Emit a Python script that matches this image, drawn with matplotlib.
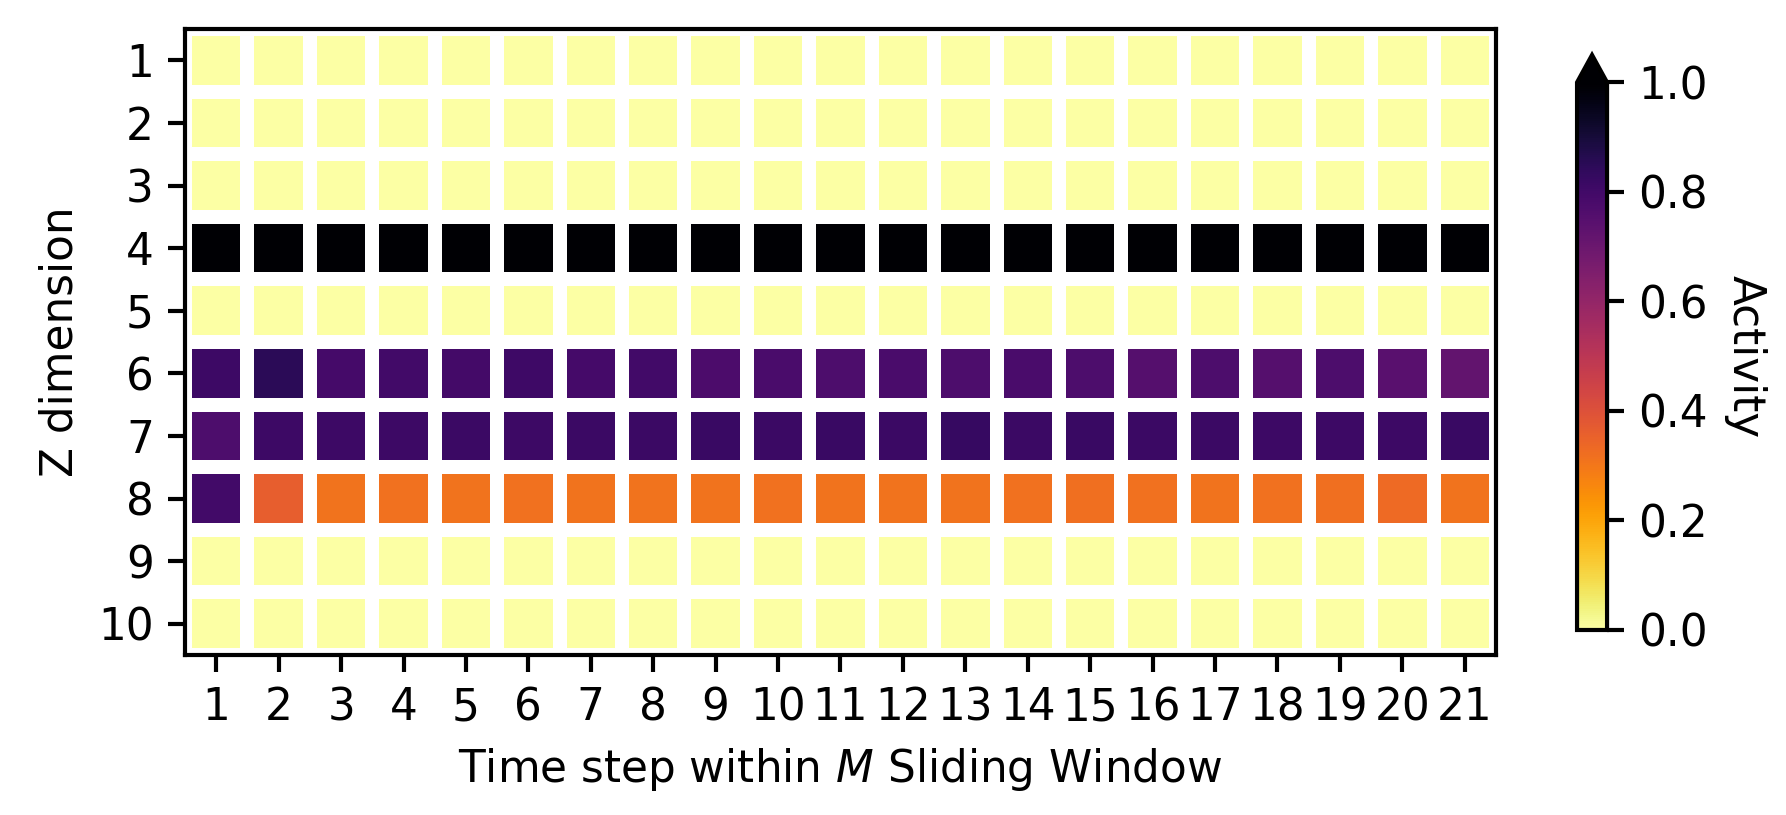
import numpy as np
import matplotlib
matplotlib.use("Agg")
import matplotlib.pyplot as plt

# activity per Z dimension (rows) over the 21 time steps (columns)
time_steps = list(range(1, 22))
z_dims = list(range(1, 11))

row_quiet = [0.0] * 21
row_4 = [1.0] * 21
row_6 = [0.81, 0.85, 0.79, 0.80, 0.795, 0.805, 0.79, 0.80, 0.775, 0.78, 0.77,
         0.78, 0.77, 0.78, 0.77, 0.75, 0.77, 0.75, 0.77, 0.745, 0.72]
row_7 = [0.77, 0.81, 0.81, 0.81, 0.815, 0.81, 0.815, 0.815, 0.82, 0.815, 0.82,
         0.815, 0.825, 0.815, 0.82, 0.815, 0.815, 0.81, 0.81, 0.81, 0.82]
row_8 = [0.80, 0.36, 0.31, 0.315, 0.31, 0.315, 0.31, 0.31, 0.31, 0.315, 0.31,
         0.31, 0.31, 0.315, 0.32, 0.315, 0.31, 0.315, 0.32, 0.33, 0.31]

activity = np.array([row_quiet, row_quiet, row_quiet, row_4, row_quiet,
                     row_6, row_7, row_8, row_quiet, row_quiet])

plt.rcParams["font.family"] = "DejaVu Sans"
plt.rcParams["font.size"] = 10.5

fig = plt.figure(figsize=(1786 / 300, 815 / 300), dpi=300)
ax = fig.add_axes([0.1036, 0.1963, 0.734, 0.768])
cax = fig.add_axes([0.883, 0.227, 0.0168, 0.7055])

mesh = ax.pcolormesh(activity, cmap="inferno_r", vmin=0.0, vmax=1.0,
                     edgecolors="white", linewidth=3.3)
ax.set_xlim(0, len(time_steps))
ax.set_ylim(len(z_dims), 0)

ax.set_xticks(np.arange(len(time_steps)) + 0.5)
ax.set_xticklabels([str(t) for t in time_steps])
ax.set_yticks(np.arange(len(z_dims)) + 0.5)
ax.set_yticklabels([str(z) for z in z_dims])
ax.tick_params(length=4, width=1)
for sp in ax.spines.values():
    sp.set_linewidth(1)

ax.set_xlabel("Time step within $M$ Sliding Window")
ax.set_ylabel("Z dimension")

cbar = fig.colorbar(mesh, cax=cax, extend="max")
cbar.set_ticks([0.0, 0.2, 0.4, 0.6, 0.8, 1.0])
cbar.ax.tick_params(length=4, width=1)
cbar.outline.set_linewidth(1)
cbar.set_label("Activity", rotation=270, labelpad=14)

fig.savefig("out.png", dpi=300)
